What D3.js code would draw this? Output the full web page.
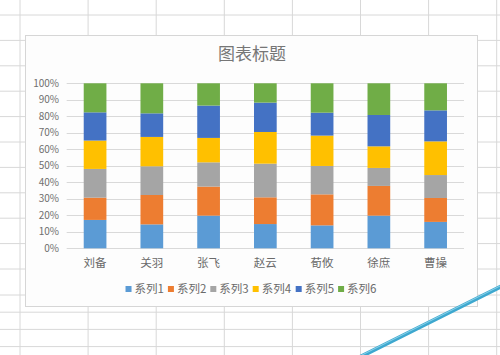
<!DOCTYPE html>
<html><head><meta charset="utf-8">
<script src="https://cdn.jsdelivr.net/npm/d3@7"></script>
<style>
html,body{margin:0;padding:0;background:#fff;}
svg{display:block;}
text{font-family:"Noto Sans CJK SC","Noto Sans",sans-serif;}
</style></head>
<body>
<svg id="c" width="500" height="355"></svg>
<script>
const title = "图表标题";
const categories = ["刘备","关羽","张飞","赵云","荀攸","徐庶","曹操"];
const seriesNames = ["系列1","系列2","系列3","系列4","系列5","系列6"];
const seriesColors = ["#5B9BD5","#ED7D31","#A5A5A5","#FFC000","#4472C4","#70AD47"];
const s1 = [17.2, 14.5, 19.8, 14.7, 13.9, 19.8, 16.0];
const s2 = [13.5, 17.8, 17.6, 16.2, 18.8, 18.0, 14.5];
const s3 = [17.4, 17.4, 14.7, 20.4, 17.2, 10.9, 13.9];
const s4 = [17.2, 17.8, 14.8, 19.2, 18.4, 13.1, 20.4];
const s5 = [17.1, 14.3, 19.6, 17.8, 13.9, 19.0, 18.8];
const s6 = [17.6, 18.2, 13.5, 11.7, 17.8, 19.2, 16.4];
const tickValues = [0,0.1,0.2,0.3,0.4,0.5,0.6,0.7,0.8,0.9,1];

const seriesData = [s1,s2,s3,s4,s5,s6];
const rows = categories.map((c,i)=>{
  const r = {cat:c};
  seriesNames.forEach((s,j)=>{ r[s] = seriesData[j][i]; });
  return r;
});

const svg = d3.select("#c");
const W = 500, H = 355;

// spreadsheet background grid (decoration)
const bg = svg.append("g");
bg.append("rect").attr("width",W).attr("height",H).attr("fill","#ffffff");
const rowLines = d3.range(15, 282, 25.4).concat(d3.range(295, 356, 17.2));
bg.selectAll("line.r").data(rowLines).join("line")
  .attr("x1",0).attr("x2",W).attr("y1",d=>d).attr("y2",d=>d)
  .attr("stroke","#d8d8d8").attr("stroke-width",1);
const colLines = d3.range(20, W, 68.1);
bg.selectAll("line.c").data(colLines).join("line")
  .attr("x1",d=>d).attr("x2",d=>d).attr("y1",0).attr("y2",H)
  .attr("stroke","#d8d8d8").attr("stroke-width",1);

// chart area
svg.append("rect").attr("x",25.5).attr("y",35.5).attr("width",452).attr("height",271)
  .attr("fill","#fdfdfd").attr("stroke","#d6d6d6").attr("stroke-width",1);

const x = d3.scaleBand().domain(categories).range([66.7, 464]).paddingInner(0.6).paddingOuter(0.3);
const y = d3.scaleLinear().domain([0,1]).range([248.3, 83.3]);

// title
svg.append("text").attr("x",252).attr("y",60).attr("text-anchor","middle")
  .attr("font-size",17).attr("fill","#767676").text(title);

// gridlines
svg.append("g").selectAll("line").data(tickValues).join("line")
  .attr("x1",66.7).attr("x2",464).attr("y1",d=>Math.round(y(d))+0.5).attr("y2",d=>Math.round(y(d))+0.5)
  .attr("stroke","#d9d9d9").attr("stroke-width",1);

// y tick labels
svg.append("g").selectAll("text").data(tickValues).join("text")
  .attr("x",59).attr("y",d=>y(d)).attr("dy","0.35em").attr("text-anchor","end")
  .attr("font-family","Liberation Sans, Arial, sans-serif")
  .attr("font-size",10).attr("fill","#6f6f6f")
  .text(d=>d3.format(".0%")(d));

// stacked bars
const stack = d3.stack().keys(seriesNames).offset(d3.stackOffsetExpand);
const layers = stack(rows);
svg.append("g").selectAll("g").data(layers).join("g")
  .attr("fill",(d,i)=>seriesColors[i])
  .selectAll("rect").data(d=>d).join("rect")
  .attr("x",d=>x(d.data.cat)).attr("width",x.bandwidth())
  .attr("y",d=>y(d[1])).attr("height",d=>y(d[0])-y(d[1]));

// category labels
svg.append("g").selectAll("text").data(categories).join("text")
  .attr("x",d=>x(d)+x.bandwidth()/2).attr("y",267).attr("text-anchor","middle")
  .attr("font-size",11.5).attr("fill","#6a6a6a").text(d=>d);

// legend
const lg = svg.append("g");
const items = lg.selectAll("g").data(seriesNames).join("g");
items.append("rect").attr("width",6).attr("height",6).attr("y",-3)
  .attr("fill",(d,i)=>seriesColors[i]);
items.append("text").attr("x",9).attr("y",0).attr("dy","0.36em")
  .attr("font-size",11.5).attr("fill","#6a6a6a").text(d=>d);
let cx = 0;
const offs = [];
items.each(function(){
  const w = this.getBBox().width;
  offs.push(cx);
  cx += w + 4;
});
const total = cx - 4;
const start = 251 - total/2;
items.attr("transform",(d,i)=>`translate(${start+offs[i]},289)`);

// pen stroke decoration
svg.append("line").attr("x1",360).attr("y1",357).attr("x2",502).attr("y2",286)
  .attr("stroke","#3ea8cf").attr("stroke-width",4).attr("stroke-linecap","round");
svg.append("line").attr("x1",360).attr("y1",356).attr("x2",502).attr("y2",285)
  .attr("stroke","#8fd3ea").attr("stroke-width",1);
</script>
</body></html>
